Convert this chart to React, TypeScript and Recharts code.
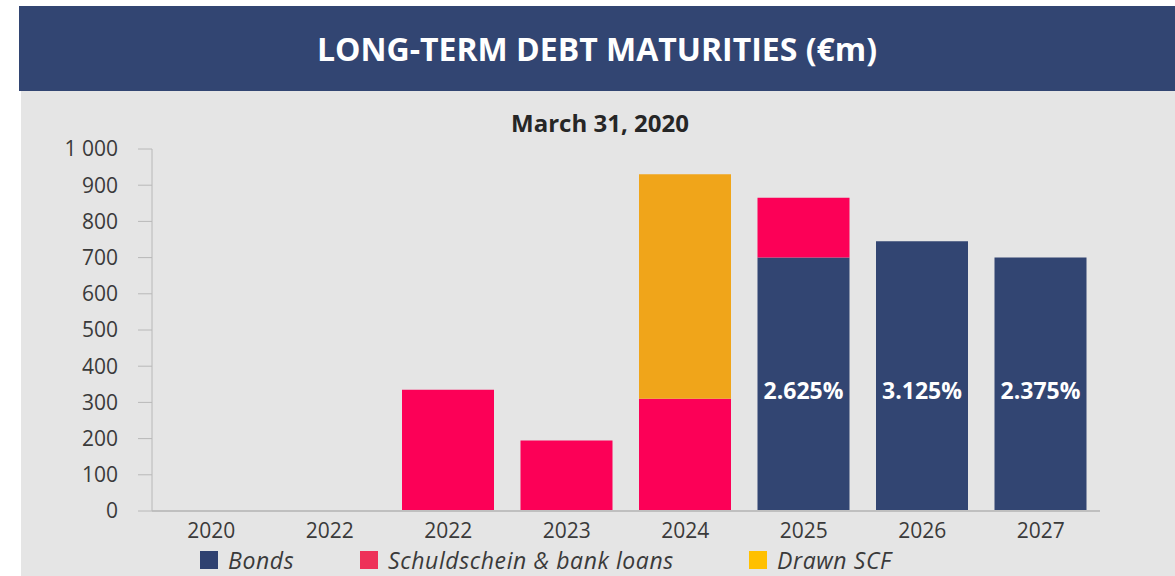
import { Bar, BarChart, LabelList, XAxis, YAxis } from 'recharts'

const years = ['2020', '2022', '2022', '2023', '2024', '2025', '2026', '2027']
const bonds = [0, 0, 0, 0, 0, 700, 745, 700]
const schuldschein = [0, 0, 335, 195, 310, 165, 0, 0]
const drawnScf = [0, 0, 0, 0, 620, 0, 0, 0]
const coupons = ['', '', '', '', '', '2.625%', '3.125%', '2.375%']
const yTicks = [0, 100, 200, 300, 400, 500, 600, 700, 800, 900, 1000]

const NAVY = '#324572'
const PINK = '#FC0057'
const ORANGE = '#F0A51A'
const FONT = '"Open Sans", "Noto Sans", sans-serif'

const data = years.map((year, i) => ({
  key: i,
  year,
  bonds: bonds[i],
  schuldschein: schuldschein[i],
  drawnScf: drawnScf[i],
  coupon: coupons[i],
}))

const legendItems = [
  { label: 'Bonds', color: '#2F4170', left: 200 },
  { label: 'Schuldschein & bank loans', color: '#EE3159', left: 360 },
  { label: 'Drawn SCF', color: '#FFC000', left: 749 },
]

function CouponLabel(props: any) {
  const { x, y, width, height, value } = props
  if (!value) return null
  return (
    <text
      x={x + width / 2}
      y={y + height - 121}
      fill="#fff"
      fontSize={23}
      fontWeight={700}
      fontFamily={FONT}
      textAnchor="middle"
      dominantBaseline="central"
    >
      {value}
    </text>
  )
}

export default function App() {
  return (
    <div style={{ position: 'fixed', left: 0, top: 0, width: 1175, height: 576, overflow: 'hidden', background: '#fff', fontFamily: FONT }}>
      <div
        style={{
          position: 'absolute', left: 19, top: 6, width: 1156, height: 85, background: NAVY,
          color: '#fff', fontWeight: 700, fontSize: 32, display: 'flex', alignItems: 'center',
          justifyContent: 'center',
        }}
      >
        LONG-TERM DEBT MATURITIES (€m)
      </div>
      <div style={{ position: 'absolute', left: 21, top: 91, width: 1154, height: 485, background: '#E5E5E5' }}>
        <div style={{ position: 'absolute', left: 0, top: 15, width: 1158, textAlign: 'center', fontWeight: 700, fontSize: 24, color: '#262626' }}>
          March 31, 2020
        </div>
        <BarChart
          width={1154}
          height={485}
          data={data}
          margin={{ top: 58, right: 75, bottom: 35, left: 0 }}
          barSize={92}
        >
          <XAxis
            dataKey="key"
            tickFormatter={(i: number) => years[i]}
            tickLine={false}
            tickSize={0}
            tickMargin={12}
            height={30}
            axisLine={{ stroke: '#BFBFBF', strokeWidth: 2 }}
            tick={{ fill: '#3A3A3A', fontSize: 21, fontFamily: FONT }}
            interval={0}
          />
          <YAxis
            domain={[0, 1000]}
            ticks={yTicks}
            width={131}
            tickSize={14}
            tickMargin={20}
            tickLine={{ stroke: '#B8B8B8' }}
            axisLine={{ stroke: '#B8B8B8' }}
            tickFormatter={(v: number) => (v >= 1000 ? '1 000' : String(v))}
            tick={{ fill: '#3A3A3A', fontSize: 21, fontFamily: FONT }}
            interval={0}
          />
          <Bar dataKey="bonds" stackId="a" fill={NAVY} isAnimationActive={false}>
            <LabelList dataKey="coupon" content={CouponLabel} />
          </Bar>
          <Bar dataKey="schuldschein" stackId="a" fill={PINK} isAnimationActive={false} />
          <Bar dataKey="drawnScf" stackId="a" fill={ORANGE} isAnimationActive={false} />
        </BarChart>
      </div>
      {legendItems.map((item) => (
        <div key={item.label} style={{ position: 'absolute', left: item.left, top: 546, display: 'flex', alignItems: 'center', height: 28 }}>
          <div style={{ width: 18, height: 18, background: item.color, marginRight: 10 }} />
          <span style={{ fontStyle: 'italic', fontSize: 23, letterSpacing: 0.6, color: '#3A3A3A', lineHeight: '28px' }}>{item.label}</span>
        </div>
      ))}
    </div>
  )
}
